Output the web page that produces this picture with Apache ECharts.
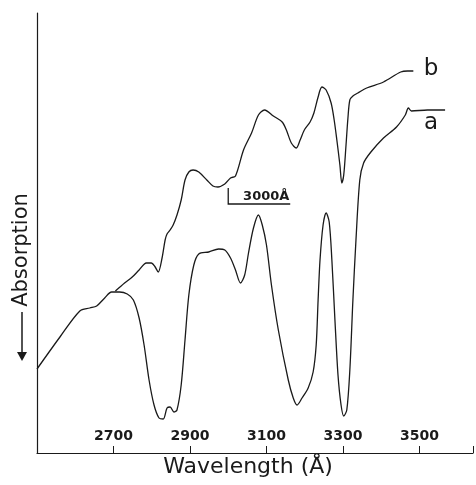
<!DOCTYPE html>
<html><head><meta charset="utf-8">
<script src="https://cdn.jsdelivr.net/npm/echarts@6/dist/echarts.min.js"></script>
<style>html,body{margin:0;padding:0;background:#fff;}#c{width:476px;height:485px;}</style>
</head><body><div id="c"></div>
<script>
const tickLabels = [2700, 2900, 3100, 3300, 3500];
const aWave = [2500,2560,2612,2638,2656,2677,2695,2716,2736,2752,2767,2780,2793,2806,2819,2830,2840,2848,2858,2866,2877,2887,2897,2910,2923,2949,2975,2991,3006,3019,3032,3043,3053,3066,3079,3089,3100,3113,3131,3157,3170,3180,3193,3209,3222,3230,3235,3240,3248,3256,3264,3271,3279,3287,3295,3302,3310,3318,3326,3334,3344,3354,3373,3406,3440,3463,3471,3479,3521,3567];
const aVal  = [84,116,142,145,147,155,161,161,159,153,135,108,73,48,35,34,45,46,41,43,68,113,158,188,199,201,204,203,195,183,170,178,200,225,238,228,208,168,123,73,55,48,55,65,81,108,153,193,228,240,231,193,133,78,48,37,43,83,153,213,273,290,301,315,326,338,345,342,343,343];
const bWave = [2705,2729,2749,2767,2786,2799,2809,2817,2827,2835,2840,2848,2856,2866,2877,2887,2897,2908,2923,2944,2960,2973,2991,3006,3019,3040,3061,3079,3095,3118,3141,3152,3165,3178,3188,3199,3214,3224,3235,3245,3256,3269,3277,3284,3292,3297,3302,3308,3313,3318,3326,3339,3362,3406,3451,3469,3484];
const bVal  = [162,170,176,183,190,190,186,181,195,213,219,223,228,238,253,273,281,283,281,273,267,266,269,275,277,303,320,338,343,337,331,323,310,305,313,323,331,340,356,366,363,350,333,313,288,270,278,308,335,353,357,360,365,371,381,382,382];
const curveNames = ['a', 'b'];
const markerWave = 3000;
const markerText = '3000Å';

const chart = echarts.init(document.getElementById('c'));
const FONT = 'DejaVu Sans';
const ink = '#1a1a1a';
const zip = (w, v) => w.map((x, i) => [x, v[i]]);
chart.setOption({
  backgroundColor: '#fff',
  animation: false,
  grid: {left: 37, right: 0, top: 13, bottom: 32},
  xAxis: {
    type: 'value', min: 2500, max: 3640, interval: 200,
    axisLine: {lineStyle: {color: ink, width: 1.2}},
    axisTick: {inside: true, length: 7, lineStyle: {color: ink, width: 1}},
    axisLabel: {inside: true, margin: 10, color: ink, fontFamily: FONT, fontSize: 14, fontWeight: 'bold',
      formatter: v => tickLabels.indexOf(v) >= 0 ? String(v) : ''},
    splitLine: {show: false}
  },
  yAxis: {
    type: 'value', min: 0, max: 440,
    axisLine: {show: true, lineStyle: {color: ink, width: 1.2}},
    axisTick: {show: false}, axisLabel: {show: false}, splitLine: {show: false}
  },
  series: [
    {name: curveNames[0], type: 'line', data: zip(aWave, aVal), symbol: 'none', smooth: 0.3,
     lineStyle: {color: ink, width: 1.3},
     markPoint: {symbol: 'circle', symbolSize: 0, data: [{coord: [3530, 330], value: curveNames[0]}],
       label: {show: true, formatter: curveNames[0], color: ink, fontFamily: FONT, fontSize: 23}}},
    {name: curveNames[1], type: 'line', data: zip(bWave, bVal), symbol: 'none', smooth: 0.3,
     lineStyle: {color: ink, width: 1.3},
     markPoint: {symbol: 'circle', symbolSize: 0, data: [{coord: [3530, 384], value: curveNames[1]}],
       label: {show: true, formatter: curveNames[1], color: ink, fontFamily: FONT, fontSize: 23}}}
  ]
});

// 3000 Å marker
const p0 = chart.convertToPixel({gridIndex: 0}, [markerWave, 265]);
const p1 = chart.convertToPixel({gridIndex: 0}, [markerWave, 249]);
chart.setOption({
  graphic: [
    {type: 'polyline', shape: {points: [[p0[0], p0[1]], [p1[0], p1[1]], [p1[0] + 62, p1[1]]]},
     style: {stroke: ink, lineWidth: 1.3, fill: null}},
    {type: 'text', x: p1[0] + 38, y: p1[1] - 1,
     style: {text: markerText, font: 'bold 13px "DejaVu Sans"', fill: ink, textAlign: 'center', textVerticalAlign: 'bottom'}},
    {type: 'text', x: 22, y: 250, rotation: Math.PI / 2,
     style: {text: 'Absorption', font: '21px "DejaVu Sans"', fill: ink, textAlign: 'center', textVerticalAlign: 'middle'}},
    {type: 'line', shape: {x1: 22, y1: 312, x2: 22, y2: 355}, style: {stroke: ink, lineWidth: 1.5}},
    {type: 'polygon', shape: {points: [[17, 352], [27, 352], [22, 361]]}, style: {fill: ink}},
    {type: 'text', x: 248, y: 467,
     style: {text: 'Wavelength (Å)', font: '22px "DejaVu Sans"', fill: ink, textAlign: 'center', textVerticalAlign: 'middle'}}
  ]
});
</script></body></html>
